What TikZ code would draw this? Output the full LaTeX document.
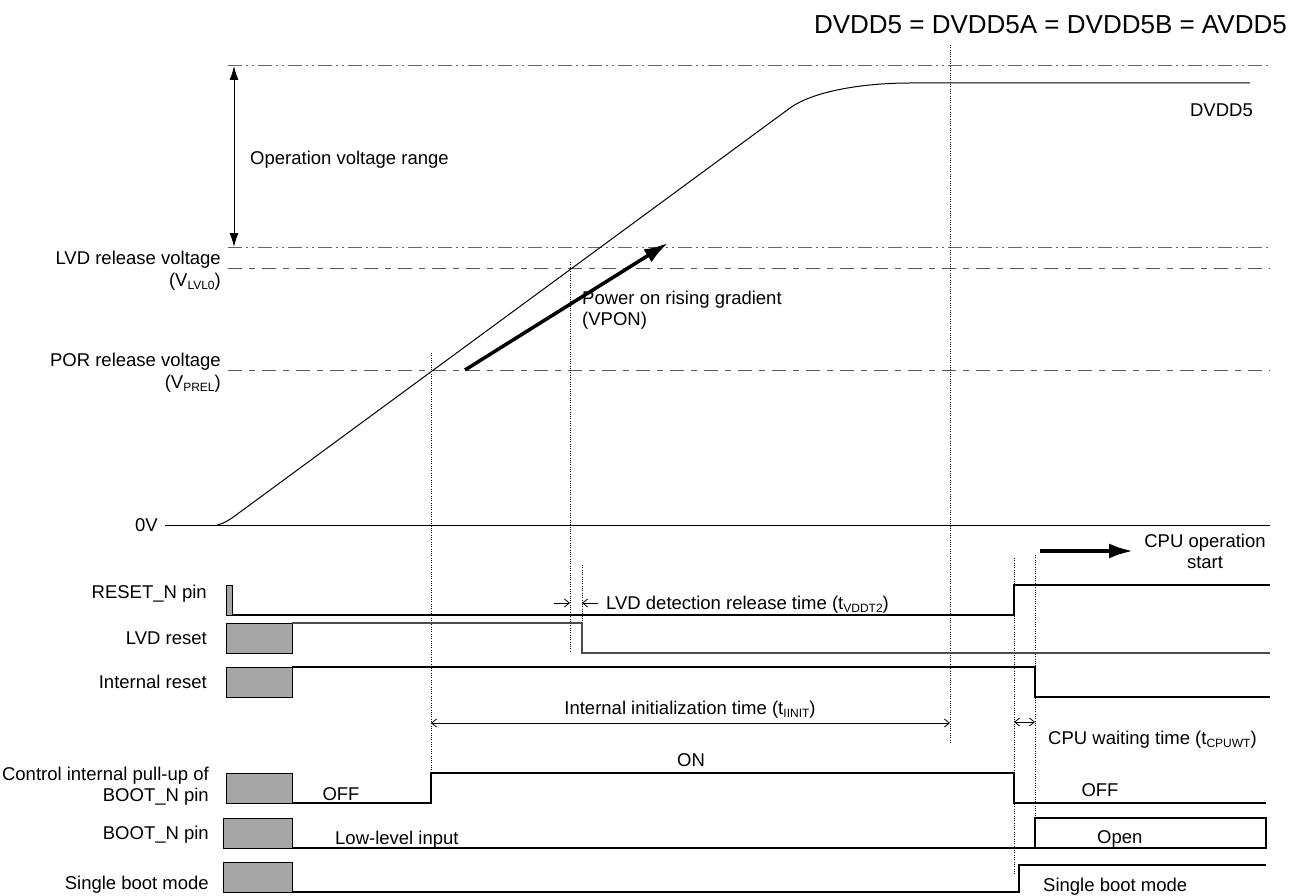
\documentclass[tikz,border=0pt]{standalone}
\usepackage{fontspec}
\setmainfont{Liberation Sans}
\usetikzlibrary{arrows.meta}
\newcommand{\sbs}[1]{\raisebox{-3pt}{\fontsize{12}{12}\selectfont #1}}

\begin{document}
\begin{tikzpicture}[x=1pt, y=-1pt,
    every node/.style={inner sep=0pt, text height=13pt, text depth=0pt, font=\fontsize{18.5}{22}\selectfont},
    sig/.style={line width=1.1pt},
    greybox/.style={draw, fill=gray!70, line width=1pt},
    rangeline/.style={line width=1pt, gray!80!black, dash pattern=on 14pt off 4pt on 2pt off 4pt on 2pt off 4pt},
    levelline/.style={line width=1pt, gray!70!black, dash pattern=on 14pt off 7pt on 6pt off 7pt},
    timeline/.style={line width=0.9pt, dash pattern=on 1pt off 1.3pt},
    dim/.style={line width=0.8pt, {Straight Barb[length=5pt,width=8pt]}-{Straight Barb[length=5pt,width=8pt]}},
    fat/.style={line width=3.5pt, -{Latex[length=24pt,width=15pt]}}]
    \useasboundingbox (0,0) rectangle (1300,896);

    % voltage levels
    \draw[rangeline] (228,66) -- (1270,66);
    \draw[rangeline] (228,247) -- (1270,247);
    \draw[levelline] (228,268) -- (1270,268);
    \draw[levelline] (228,370) -- (1270,370);
    \draw[line width=1pt] (165,525) -- (1270,525);
    \coordinate (rtop) at (234,66);
    \coordinate (rbot) at (234,247);
    \draw[line width=1pt, {Latex[length=14pt,width=9pt]}-{Latex[length=14pt,width=9pt]}] (rtop) -- (rbot);

    % DVDD5 ramp
    \draw[line width=1pt] (217,525) .. controls (224,523) .. (232,518) -- (790,108)
        .. controls (812,92) and (860,83) .. (910,83) -- (1250,83);

    % timing marks
    \draw[timeline] (431,353) -- (431,773);
    \draw[timeline] (570,262) -- (570,651);
    \draw[timeline] (582,565) -- (582,653);
    \draw[timeline] (950,45) -- (950,742);
    \draw[timeline] (1014,558) -- (1014,875);
    \draw[timeline] (1035,555) -- (1035,818);

    % signals
    \draw[greybox] (226,585) rectangle (232,615);
    \draw[sig] (232,615) -- (1014,615) -- (1014,585) -- (1270,585);
    \draw[greybox] (226,623) rectangle (292,653);
    \draw[sig, gray!60!black] (292,623) -- (582,623) -- (582,653) -- (1270,653);
    \draw[greybox] (226,667) rectangle (292,697);
    \draw[sig] (292,667) -- (1035,667) -- (1035,697) -- (1270,697);
    \draw[greybox] (226,773) rectangle (292,803);
    \draw[sig] (292,803) -- (431,803) -- (431,773) -- (1014,773) -- (1014,803) -- (1266,803);
    \draw[greybox] (223,818) rectangle (292,848);
    \draw[sig] (292,848) -- (1266,848) -- (1266,818) -- (1035,818) -- (1035,848);
    \draw[greybox] (223,862) rectangle (292,892);
    \draw[sig] (292,892) -- (1019,892) -- (1019,865) -- (1266,865);

    % arrows
    \coordinate (gradA) at (465,370);
    \coordinate (gradB) at (668,243);
    \draw[fat] (gradA) -- (gradB);
    \coordinate (cpuA) at (1040,551);
    \coordinate (cpuB) at (1133,551);
    \draw[fat] (cpuA) -- (cpuB);
    \coordinate (initA) at (431,723);
    \coordinate (initB) at (950,723);
    \draw[dim] (initA) -- (initB);
    \coordinate (waitA) at (1014,722);
    \coordinate (waitB) at (1035,722);
    \draw[dim] (waitA) -- (waitB);
    \coordinate (lvdA) at (554,603);
    \coordinate (lvdB) at (570,603);
    \coordinate (lvdC) at (598,603);
    \coordinate (lvdD) at (582,603);
    \draw[line width=0.8pt, -{Straight Barb[length=5pt,width=8pt]}] (lvdA) -- (lvdB);
    \draw[line width=0.8pt, -{Straight Barb[length=5pt,width=8pt]}] (lvdC) -- (lvdD);

    % texts
    \node[anchor=east, font=\fontsize{26}{30}\selectfont, text height=18pt] (title) at (1287,25) {DVDD5 = DVDD5A = DVDD5B = AVDD5};
    \node[anchor=east] (dvdd) at (1253,110) {DVDD5};
    \node[anchor=west] (oprange) at (250,158) {Operation voltage range};
    \node[anchor=east] (lvdv) at (221,258) {LVD release voltage};
    \node[anchor=east] (lvdsym) at (221,280) {(V\sbs{LVL0})};
    \node[anchor=east] (porv) at (221,360) {POR release voltage};
    \node[anchor=east] (porsym) at (221,382) {(V\sbs{PREL})};
    \node[anchor=east] (zero) at (158,525) {0V};
    \node[anchor=west] (grad) at (582,298) {Power on rising gradient};
    \node[anchor=west] (vpon) at (582,319) {(VPON)};
    \node (cpuop) at (1205,541) {CPU operation};
    \node (cpust) at (1205,562) {start};
    \node[anchor=east] (resetn) at (207,592) {RESET\_N pin};
    \node[anchor=west] (lvdtime) at (606,603) {LVD detection release time (t\sbs{VDDT2})};
    \node[anchor=east] (lvdrst) at (207,638) {LVD reset};
    \node[anchor=east] (intrst) at (207,682) {Internal reset};
    \node (inittime) at (690,708) {Internal initialization time (t\sbs{IINIT})};
    \node[anchor=west] (waittime) at (1048,738) {CPU waiting time (t\sbs{CPUWT})};
    \node (pullon) at (691,760) {ON};
    \node[anchor=east] (pullup) at (209,774) {Control internal pull-up of};
    \node[anchor=east] (pullpin) at (209,795) {BOOT\_N pin};
    \node (pulloff) at (341,794) {OFF};
    \node (pulloffb) at (1100,790) {OFF};
    \node[anchor=east] (bootn) at (209,833) {BOOT\_N pin};
    \node[anchor=west] (lowin) at (335,838) {Low-level input};
    \node[anchor=west] (open) at (1097,837) {Open};
    \node[anchor=east] (single) at (209,883) {Single boot mode};
    \node[anchor=west] (singleb) at (1043,885) {Single boot mode};
\end{tikzpicture}
\end{document}
